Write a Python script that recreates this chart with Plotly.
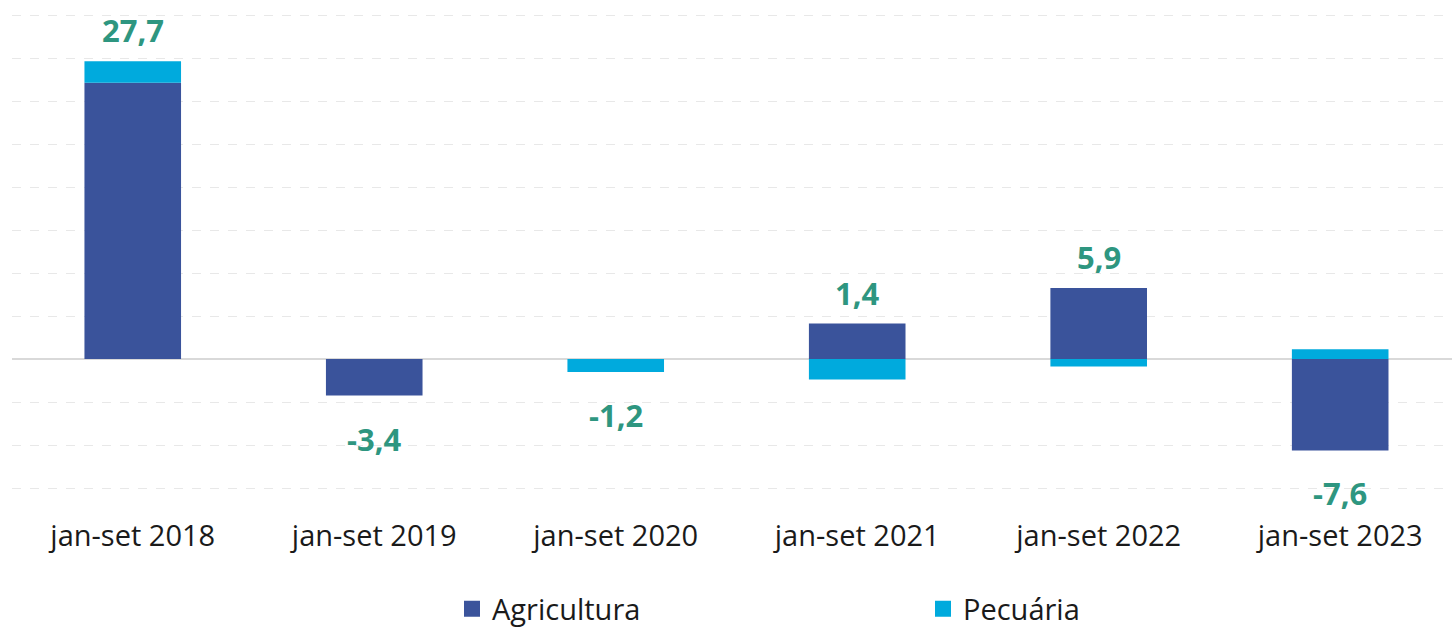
import plotly.graph_objects as go

categories = ["jan-set 2018", "jan-set 2019", "jan-set 2020", "jan-set 2021", "jan-set 2022", "jan-set 2023"]
agricultura = [25.7, -3.4, 0.0, 3.3, 6.6, -8.5]
pecuaria = [2.0, 0.0, -1.2, -1.9, -0.7, 0.9]
total_labels = ["27,7", "-3,4", "-1,2", "1,4", "5,9", "-7,6"]

C_AGR = "#3A539B"
C_PEC = "#00AADD"
C_LBL = "#2E9680"
FONT = "Open Sans"

fig = go.Figure()
fig.add_trace(go.Bar(x=categories, y=agricultura, name="Agricultura", marker=dict(color=C_AGR, line=dict(width=0)), width=0.4, showlegend=False))
fig.add_trace(go.Bar(x=categories, y=pecuaria, name="Pecuária", marker=dict(color=C_PEC, line=dict(width=0)), width=0.4, showlegend=False))
# legend entries with larger square swatches
fig.add_trace(go.Scatter(x=[None], y=[None], mode="markers", name="Agricultura", marker=dict(symbol="square", size=20, color=C_AGR)))
fig.add_trace(go.Scatter(x=[None], y=[None], mode="markers", name="Pecuária", marker=dict(symbol="square", size=20, color=C_PEC)))

for cat, a, p, lbl in zip(categories, agricultura, pecuaria, total_labels):
    total = a + p
    if total >= 0:
        top = max(a, 0) + max(p, 0)
        fig.add_annotation(x=cat, y=top, text=lbl, showarrow=False, yanchor="bottom", yshift=8,
                           font=dict(family=FONT, size=31, color=C_LBL, weight="bold"))
    else:
        bot = min(a, 0) + min(p, 0)
        fig.add_annotation(x=cat, y=bot, text=lbl, showarrow=False, yanchor="top", yshift=-20,
                           font=dict(family=FONT, size=31, color=C_LBL, weight="bold"))

fig.update_layout(
    width=1452, height=627,
    barmode="relative",
    margin=dict(l=12, r=0, t=0, b=122),
    paper_bgcolor="white", plot_bgcolor="white",
    font=dict(family=FONT, size=29, color="#1A1A1A"),
    xaxis=dict(range=[-0.5, 5.463], showgrid=False, showline=False, ticks="", tickfont=dict(size=29),
               ticklabelstandoff=11),
    yaxis=dict(range=[-13.58, 33.395], dtick=4, tick0=0, showticklabels=False, showgrid=True,
               gridcolor="#E8E8E8", griddash="dash", gridwidth=1,
               zeroline=True, zerolinecolor="#D9D9D9", zerolinewidth=2),
    legend=dict(orientation="h", xref="container", yref="container", x=452/1452, xanchor="left",
                y=(627 - 609) / 627, yanchor="middle", entrywidth=426, entrywidthmode="pixels",
                font=dict(size=29, color="#1A1A1A"), bgcolor="rgba(0,0,0,0)"),
    showlegend=True,
)

fig.write_html("out.html", config={"displayModeBar": False},
               post_script="document.body.style.margin='0';document.body.style.overflow='hidden';")
